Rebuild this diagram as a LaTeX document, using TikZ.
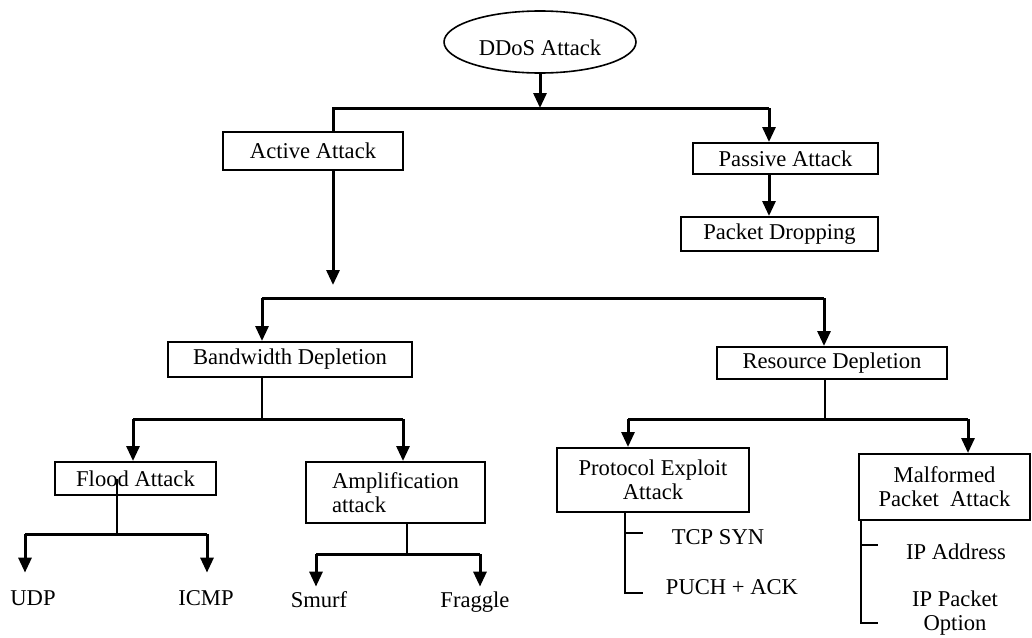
\documentclass[tikz,border=0pt]{standalone}
\usepackage{fontspec}
\setmainfont{Liberation Serif}
\usetikzlibrary{arrows.meta}
\usetikzlibrary{shapes.geometric}

\tikzset{
  box/.style={draw, line width=1pt, inner sep=0pt, align=center},
  leaf/.style={align=center, inner sep=0pt, text height=8pt, text depth=2pt},
  conn/.style={line width=1.5pt},
  stub/.style={line width=0.75pt},
  arr/.style={line width=1.5pt, -{Triangle[width=6.5pt,length=7.5pt]}},
}

\begin{document}
\begin{tikzpicture}[x=0.5pt, y=-0.5pt, font=\fontsize{11.3}{12}\selectfont]
        \useasboundingbox (0,0) rectangle (1032,637);

        \node[ellipse, draw, line width=0.8pt, minimum width=81pt, minimum height=31pt, text height=13pt, text depth=0pt] (ddos) at (540,42) {DDoS Attack};

        \node[box, minimum width=90pt, minimum height=19pt] (active) at (313,151) {Active Attack};
        \node[box, minimum width=92.5pt, minimum height=15.5pt] (passive) at (785.5,158.5) {Passive Attack};
        \node[box, minimum width=98.5pt, minimum height=17pt] (dropping) at (779.5,234) {Packet Dropping};

        \node[box, minimum width=122pt, minimum height=17.5pt] (bandwidth) at (290,359.5) {Bandwidth Depletion};
        \node[box, minimum width=115pt, minimum height=16pt] (resource) at (832,363) {Resource Depletion};

        \node[box, minimum width=80.5pt, minimum height=16.5pt] (flood) at (135.5,478.5) {Flood Attack};
        \node[box, align=left, minimum width=89.5pt, minimum height=30.5pt] (amplif) at (395.5,492.5) {Amplification\\attack};
        \node[box, minimum width=96pt, minimum height=32pt] (protocol) at (653,480) {Protocol Exploit\\Attack};
        \node[box, minimum width=85.5pt, minimum height=33pt] (malformed) at (944.5,487) {Malformed\\Packet~ Attack};

        \node[leaf] (udp) at (33,599) {UDP};
        \node[leaf] (icmp) at (206,599) {ICMP};
        \node[leaf] (smurf) at (319,601) {Smurf};
        \node[leaf] (fraggle) at (475,601) {Fraggle};
        \node[leaf] (tcp) at (718,538) {TCP SYN};
        \node[leaf] (puch) at (732,588) {PUCH + ACK};
        \node[leaf] (ipaddr) at (956,553) {IP Address};
        \node[align=center] (ippacket) at (955,613) {IP Packet\\Option};

        % top level
        \coordinate (top) at (540,108);
        \coordinate (t1) at (333,108);
        \coordinate (t2) at (769,108);
        \draw[arr] (ddos) -- (top);
        \draw[conn] (active.north -| t1) -- (t1) -- (t2);
        \draw[arr] (t2) -- (passive.north -| t2);
        \draw[arr] (passive.south -| t2) -- (dropping.north -| t2);

        % active attack
        \coordinate (a1) at (333,285);
        \coordinate (m1) at (262,298);
        \coordinate (m2) at (824,298);
        \draw[arr] (active.south -| a1) -- (a1);
        \draw[conn] (m1) -- (m2);
        \draw[arr] (m1) -- (bandwidth.north -| m1);
        \draw[arr] (m2) -- (resource.north -| m2);

        % bandwidth depletion
        \coordinate (b0) at (262,419);
        \coordinate (b1) at (133,419);
        \coordinate (b2) at (403,419);
        \draw[stub] (bandwidth.south -| b0) -- (b0);
        \draw[conn] (b1) -- (b2);
        \draw[arr] (b1) -- (flood.north -| b1);
        \draw[arr] (b2) -- (amplif.north -| b2);

        \coordinate (f0) at (117,534);
        \coordinate (f1) at (25,534);
        \coordinate (f2) at (207,534);
        \draw[stub] (flood.center -| f0) -- (f0);
        \draw[conn] (f1) -- (f2);
        \draw[arr, shorten >=8pt] (f1) -- (udp.north -| f1);
        \draw[arr, shorten >=8pt] (f2) -- (icmp.north -| f2);

        \coordinate (s0) at (407,554);
        \coordinate (s1) at (316,554);
        \coordinate (s2) at (480,554);
        \draw[stub] (amplif.south -| s0) -- (s0);
        \draw[conn] (s1) -- (s2);
        \draw[arr, shorten >=2pt] (s1) -- (smurf.north -| s1);
        \draw[arr, shorten >=2pt] (s2) -- (fraggle.north -| s2);

        % resource depletion
        \coordinate (r0) at (825,419);
        \coordinate (r1) at (628,419);
        \coordinate (r2) at (968,419);
        \draw[stub] (resource.south -| r0) -- (r0);
        \draw[conn] (r1) -- (r2);
        \draw[arr] (r1) -- (protocol.north -| r1);
        \draw[arr] (r2) -- (malformed.north -| r2);

        \coordinate (p0) at (625,533);
        \coordinate (p1) at (625,593);
        \draw[line width=1pt] (protocol.south -| p1) -- (p1) -- ++(18,0);
        \draw[line width=1pt] (p0) -- ++(18,0);

        \coordinate (q0) at (861,545);
        \coordinate (q1) at (861,623);
        \draw[line width=1pt] (malformed.south -| q1) -- (q1) -- ++(17,0);
        \draw[line width=1pt] (q0) -- ++(17,0);
      \end{tikzpicture}
\end{document}
